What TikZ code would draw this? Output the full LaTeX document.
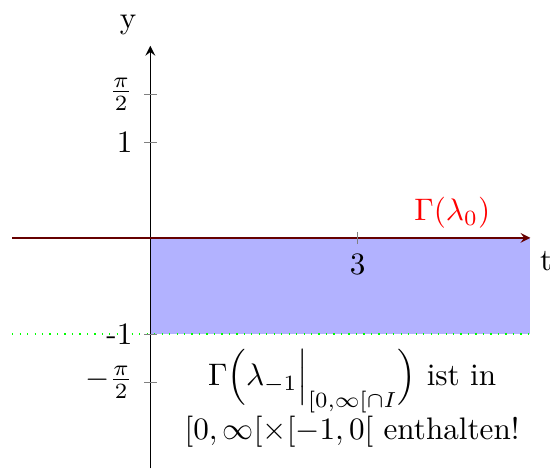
\documentclass[tikz,border=0pt]{standalone}
\usepackage{amsmath}
\begin{document}
\begin{tikzpicture}[x=0.78cm, y=1.084cm,
    achse/.style={-stealth},
    strich/.style={gray, very thin},
]
    \useasboundingbox (-2.175,-2.435) rectangle (5.784,2.477);
    % Bereich
    \fill[blue!30] (0,0) rectangle (5.5,-1);
    \draw[green, dotted] (-2,-1) -- (5.5,-1);
    % Achsen
    \coordinate (xa) at (-2,0);
    \coordinate (xe) at (5.5,0);
    \coordinate (ya) at (0,-2.4);
    \coordinate (ye) at (0,2);
    \draw[red!85!black, semithick] (xa) -- ([xshift=-2pt]xe);
    \draw[achse] (ya) -- (ye);
    \draw[achse, black!60!red] (xa) -- (xe);
    \node (ylab) at (-0.32,2.22) {y};
    \node (tlab) at (5.73,-0.24) {t};
    % Ticks
    \foreach \y/\txt in {1.5/$\frac{\pi}{2}$, 1/1, -1/-1, -1.5/$-\frac{\pi}{2}$} {
        \draw[strich] (-0.09,\y) -- (0.09,\y);
        \node[left] (tick\y) at (-0.1,\y) {\txt};
    }
    \draw[strich] (3,-0.065) -- (3,0.065);
    \node[below] (tick3) at (3,-0.05) {3};
    % Beschriftung
    \node[red] (gnull) at (4.37,0.26) {$\Gamma(\lambda_0)$};
    \node[align=center] (text) at (2.92,-1.67)
        {$\Gamma\Big(\lambda_{-1}\Big|_{[0,\infty[\cap I}\Big)$ ist in\\
         $[0,\infty[\times[-1,0[$ enthalten!};
\end{tikzpicture}
\end{document}
